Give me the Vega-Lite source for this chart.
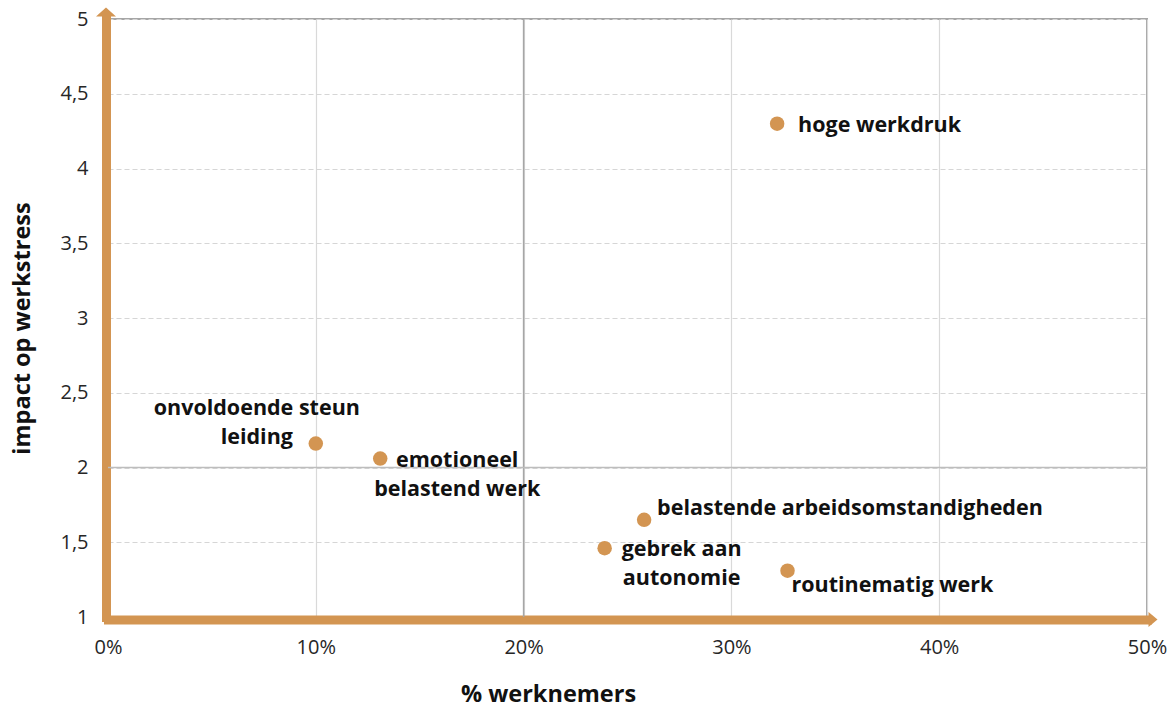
{
  "$schema": "https://vega.github.io/schema/vega-lite/v6.json",
  "width": 1039,
  "height": 598,
  "autosize": "none",
  "padding": {"left": 108, "top": 19, "right": 27, "bottom": 91},
  "background": "white",
  "config": {
    "font": "Open Sans",
    "view": {"stroke": "#A6A6A6", "strokeWidth": 2}
  },
  "data": {
    "values": [
      {"risico": "hoge werkdruk", "lbl": "hoge werkdruk", "pct": 0.322, "impact": 4.30},
      {"risico": "onvoldoende steun leiding", "lbl": "onvoldoende steun\nleiding", "pct": 0.10, "impact": 2.16},
      {"risico": "emotioneel belastend werk", "lbl": "emotioneel\nbelastend werk", "pct": 0.131, "impact": 2.06},
      {"risico": "belastende arbeidsomstandigheden", "lbl": "belastende arbeidsomstandigheden", "pct": 0.258, "impact": 1.65},
      {"risico": "gebrek aan autonomie", "lbl": "gebrek aan\nautonomie", "pct": 0.239, "impact": 1.46},
      {"risico": "routinematig werk", "lbl": "routinematig werk", "pct": 0.327, "impact": 1.31}
    ]
  },
  "encoding": {
    "x": {
      "field": "pct", "type": "quantitative",
      "scale": {"domain": [0, 0.5], "nice": false, "zero": false},
      "axis": {
        "values": [0, 0.1, 0.2, 0.3, 0.4, 0.5],
        "format": ".0%",
        "title": "% werknemers",
        "titleFontSize": 23.5, "titleFontWeight": "bold", "titleColor": "#111111",
        "titleX": 440, "titleY": 75, "titleAlign": "center", "titleBaseline": "middle",
        "labelFontSize": 20, "labelColor": "#262626", "labelPadding": 18,
        "labelFlush": false, "labelOverlap": false,
        "ticks": false, "offset": 2.5,
        "domainColor": "#D39552", "domainWidth": 9, "domainCap": "square",
        "grid": true, "gridColor": "#D9D9D9", "gridWidth": 1.2
      }
    },
    "y": {
      "field": "impact", "type": "quantitative",
      "scale": {"domain": [1, 5], "nice": false, "zero": false},
      "axis": {
        "values": [1, 1.5, 2, 2.5, 3, 3.5, 4, 4.5, 5],
        "labelExpr": "replace(toString(datum.value), '.', ',')",
        "title": "impact op werkstress",
        "titleFontSize": 23.5, "titleFontWeight": "bold", "titleColor": "#111111",
        "titleX": -84, "titleY": 309, "titleAngle": -90, "titleAlign": "center", "titleBaseline": "middle",
        "labelFontSize": 20, "labelColor": "#262626", "labelPadding": 18,
        "labelFlush": false, "labelOverlap": false,
        "ticks": false, "offset": 2,
        "domainColor": "#D39552", "domainWidth": 9, "domainCap": "square",
        "grid": true, "gridColor": "#D6D6D6", "gridWidth": 1.2, "gridDash": [5, 3]
      }
    }
  },
  "layer": [
    {
      "data": {"values": [{"xq": 0.2}]},
      "mark": {"type": "rule", "color": "#A6A6A6", "strokeWidth": 1.5},
      "encoding": {"x": {"field": "xq", "type": "quantitative"}, "y": null}
    },
    {
      "data": {"values": [{"yq": 2}]},
      "mark": {"type": "rule", "color": "#BDBDBD", "strokeWidth": 1.5},
      "encoding": {"y": {"field": "yq", "type": "quantitative"}, "x": null}
    },
    {
      "mark": {"type": "circle", "color": "#D39552", "size": 210, "opacity": 1}
    },
    {
      "transform": [{"filter": "datum.risico === 'hoge werkdruk'"}],
      "mark": {"type": "text", "align": "left", "baseline": "middle", "dx": 21, "dy": 2, "fontSize": 21.5, "fontWeight": "bold", "color": "#111111", "lineBreak": "\n", "lineHeight": 29},
      "encoding": {"text": {"field": "lbl"}}
    },
    {
      "transform": [{"filter": "datum.risico === 'onvoldoende steun leiding'"}],
      "mark": {"type": "text", "align": "center", "baseline": "middle", "dx": -59, "dy": -35, "fontSize": 21.5, "fontWeight": "bold", "color": "#111111", "lineBreak": "\n", "lineHeight": 29},
      "encoding": {"text": {"field": "lbl"}}
    },
    {
      "transform": [{"filter": {"field": "risico", "oneOf": ["emotioneel belastend werk", "gebrek aan autonomie"]}}],
      "mark": {"type": "text", "align": "center", "baseline": "middle", "dx": 77, "dy": 2, "fontSize": 21.5, "fontWeight": "bold", "color": "#111111", "lineBreak": "\n", "lineHeight": 29},
      "encoding": {"text": {"field": "lbl"}}
    },
    {
      "transform": [{"filter": "datum.risico === 'belastende arbeidsomstandigheden'"}],
      "mark": {"type": "text", "align": "left", "baseline": "middle", "dx": 13, "dy": -11, "fontSize": 21.5, "fontWeight": "bold", "color": "#111111", "lineBreak": "\n", "lineHeight": 29},
      "encoding": {"text": {"field": "lbl"}}
    },
    {
      "transform": [{"filter": "datum.risico === 'routinematig werk'"}],
      "mark": {"type": "text", "align": "left", "baseline": "middle", "dx": 4, "dy": 15, "fontSize": 21.5, "fontWeight": "bold", "color": "#111111", "lineBreak": "\n", "lineHeight": 29},
      "encoding": {"text": {"field": "lbl"}}
    },
    {
      "data": {"values": [{"ax": 0.5, "ay": 1}]},
      "mark": {"type": "point", "shape": "M-0.6,-1L0.6,0L-0.6,1Z", "filled": true, "color": "#D39552", "opacity": 1, "size": 225, "xOffset": 6, "yOffset": 2.5, "clip": false},
      "encoding": {"x": {"field": "ax", "type": "quantitative"}, "y": {"field": "ay", "type": "quantitative"}}
    },
    {
      "data": {"values": [{"ax": 0, "ay": 5}]},
      "mark": {"type": "point", "shape": "M-1,0.45L0,-0.45L1,0.45Z", "filled": true, "color": "#D39552", "opacity": 1, "size": 400, "xOffset": -2, "yOffset": -7, "clip": false},
      "encoding": {"x": {"field": "ax", "type": "quantitative"}, "y": {"field": "ay", "type": "quantitative"}}
    }
  ]
}
